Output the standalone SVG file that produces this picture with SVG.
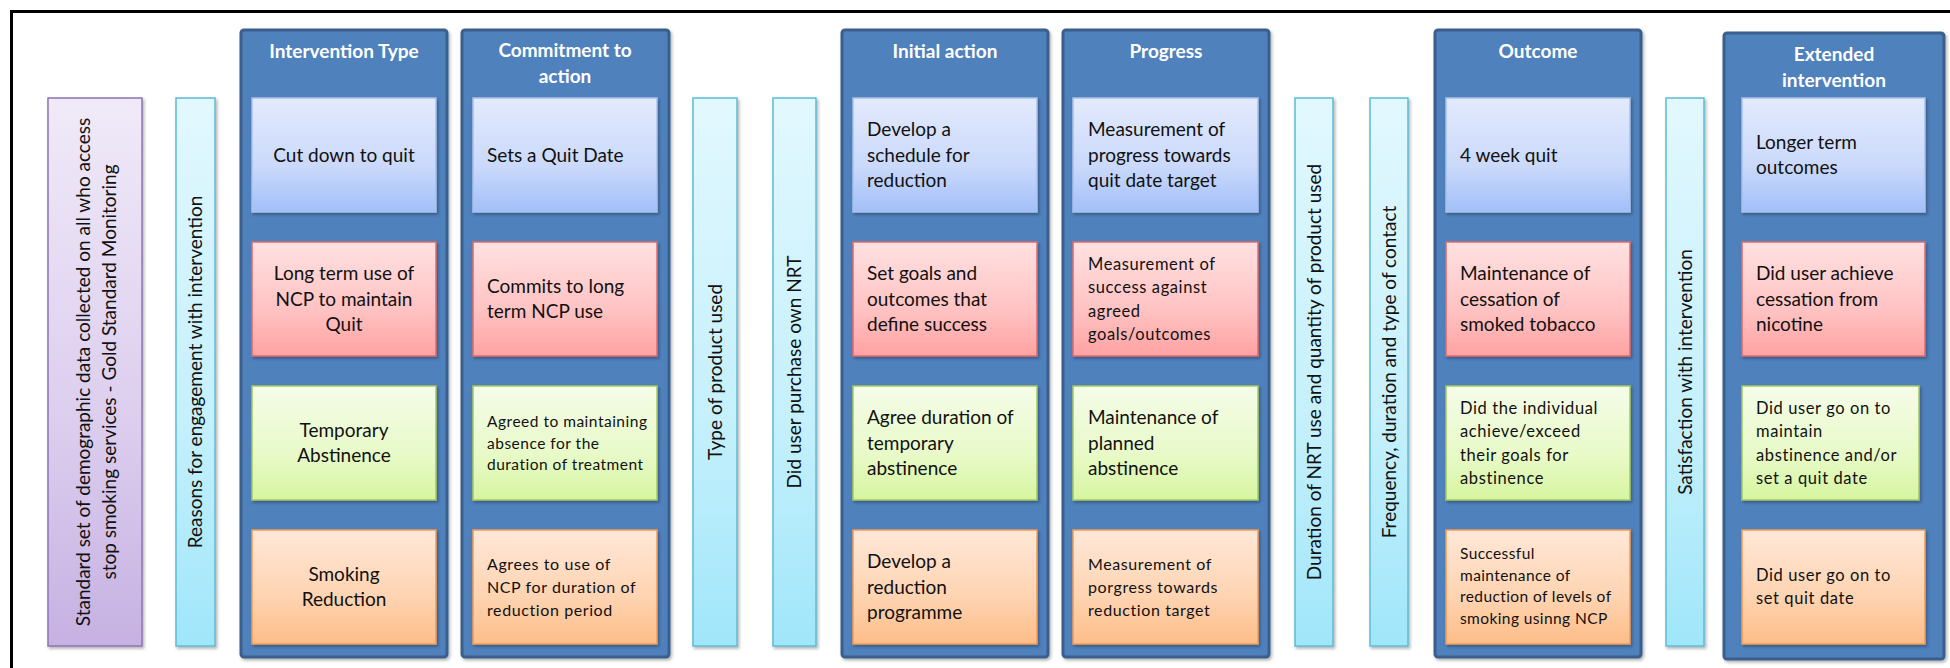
<svg xmlns="http://www.w3.org/2000/svg" width="1950" height="668" viewBox="0 0 1950 668">
<style>
.col{fill:#4F81BD;stroke:#3A5F8C;stroke-width:3}
.hd{font-family:Lato,"Open Sans","Liberation Sans",sans-serif;font-weight:bold;font-size:19px;fill:#FFFFFF;text-anchor:middle}
.t{font-family:Lato,"Open Sans","Liberation Sans",sans-serif;font-size:19px;fill:#111111}
.s{font-family:Lato,"Open Sans","Liberation Sans",sans-serif;font-size:15.5px;letter-spacing:0.5px;fill:#111111}
.s2{font-size:16px;letter-spacing:0.6px}
.s3{font-size:16.5px;letter-spacing:0.6px}
.s4{font-size:15.5px;letter-spacing:0.4px}
.c{text-anchor:middle}
.v{font-family:Lato,"Open Sans","Liberation Sans",sans-serif;font-size:19px;fill:#111111;text-anchor:middle}
.bb{fill:url(#gB);stroke:#A9C1E8;stroke-width:1.5}
.br{fill:url(#gR);stroke:#E06A6A;stroke-width:1.5}
.bg{fill:url(#gG);stroke:#A5C85E;stroke-width:1.5}
.bo{fill:url(#gO);stroke:#F59A52;stroke-width:1.5}
.bp{fill:url(#gP);stroke:#8D74B3;stroke-width:1.5}
.bc{fill:url(#gC);stroke:#5CBCD6;stroke-width:1.5}
</style>
<defs>
<linearGradient id="gB" x1="0" y1="0" x2="0" y2="1"><stop offset="0" stop-color="#E3EAFC"/><stop offset="0.6" stop-color="#CAD9FB"/><stop offset="1" stop-color="#A2BFF9"/></linearGradient>
<linearGradient id="gR" x1="0" y1="0" x2="0" y2="1"><stop offset="0" stop-color="#FFE1E1"/><stop offset="0.6" stop-color="#FFC2C2"/><stop offset="1" stop-color="#FFA2A2"/></linearGradient>
<linearGradient id="gG" x1="0" y1="0" x2="0" y2="1"><stop offset="0" stop-color="#F5FCE9"/><stop offset="0.6" stop-color="#E8FAC8"/><stop offset="1" stop-color="#D6F5A0"/></linearGradient>
<linearGradient id="gO" x1="0" y1="0" x2="0" y2="1"><stop offset="0" stop-color="#FFE8D8"/><stop offset="0.6" stop-color="#FED3B0"/><stop offset="1" stop-color="#FDBD88"/></linearGradient>
<linearGradient id="gP" x1="0" y1="0" x2="0" y2="1"><stop offset="0" stop-color="#F0EAF8"/><stop offset="0.6" stop-color="#DCCDEE"/><stop offset="1" stop-color="#C6B1E2"/></linearGradient>
<linearGradient id="gC" x1="0" y1="0" x2="0" y2="1"><stop offset="0" stop-color="#E2F8FE"/><stop offset="0.6" stop-color="#C4F0FC"/><stop offset="1" stop-color="#A0E6FA"/></linearGradient>
<filter id="sh" x="-10%" y="-5%" width="125%" height="115%"><feDropShadow dx="1.5" dy="2" stdDeviation="1.5" flood-color="#000" flood-opacity="0.3"/></filter>
</defs>

<rect x="0" y="0" width="1950" height="668" fill="#FFFFFF"/>
<rect id="frame" x="11.5" y="11.5" width="1990" height="700" fill="none" stroke="#000" stroke-width="3"/>

<g id="connectors"></g>

<g id="demographics">
<rect class="bp" x="48" y="98" width="94" height="548" filter="url(#sh)"/>
<text class="v" transform="translate(89.5,372) rotate(-90)">Standard set of demographic data collected on all who access</text>
<text class="v" transform="translate(115.5,372) rotate(-90)">stop smoking services - Gold Standard Monitoring</text>
</g>

<g id="reasons">
<rect class="bc" x="176" y="98" width="39" height="548" filter="url(#sh)"/>
<text class="v" transform="translate(202,372) rotate(-90)">Reasons for engagement with intervention</text>
</g>

<g id="intervention-type">
<rect class="col" x="241" y="30" width="206" height="627" rx="3" filter="url(#sh)"/>
<text class="hd" x="344" y="58">Intervention Type</text>
<rect class="bb" x="252" y="98" width="184" height="114" filter="url(#sh)"/>
<text class="t c" x="344" y="161.5">Cut down to quit</text>
<rect class="br" x="252" y="242" width="184" height="114" filter="url(#sh)"/>
<text class="t c"><tspan x="344" y="280">Long term use of</tspan><tspan x="344" y="305.5">NCP to maintain</tspan><tspan x="344" y="331">Quit</tspan></text>
<rect class="bg" x="252" y="386" width="184" height="114" filter="url(#sh)"/>
<text class="t c"><tspan x="344" y="436.75">Temporary</tspan><tspan x="344" y="462.25">Abstinence</tspan></text>
<rect class="bo" x="252" y="530" width="184" height="114" filter="url(#sh)"/>
<text class="t c"><tspan x="344" y="580.75">Smoking</tspan><tspan x="344" y="606.25">Reduction</tspan></text>
</g>

<g id="commitment">
<rect class="col" x="462" y="30" width="207" height="627" rx="3" filter="url(#sh)"/>
<text class="hd"><tspan x="565" y="57">Commitment to</tspan><tspan x="565" y="83">action</tspan></text>
<rect class="bb" x="473" y="98" width="184" height="114" filter="url(#sh)"/>
<text class="t" x="487" y="161.5">Sets a Quit Date</text>
<rect class="br" x="473" y="242" width="184" height="114" filter="url(#sh)"/>
<text class="t"><tspan x="487" y="292.75">Commits to long</tspan><tspan x="487" y="318.25">term NCP use</tspan></text>
<rect class="bg" x="473" y="386" width="184" height="114" filter="url(#sh)"/>
<text class="s"><tspan x="487" y="427">Agreed to maintaining</tspan><tspan x="487" y="448.5">absence for the</tspan><tspan x="487" y="470">duration of treatment</tspan></text>
<rect class="bo" x="473" y="530" width="184" height="114" filter="url(#sh)"/>
<text class="s s2"><tspan x="487" y="569.5">Agrees to use of</tspan><tspan x="487" y="592.5">NCP for duration of</tspan><tspan x="487" y="615.5">reduction period</tspan></text>
</g>

<g id="product-type">
<rect class="bc" x="693" y="98" width="44" height="548" filter="url(#sh)"/>
<text class="v" transform="translate(721.5,372) rotate(-90)">Type of product used</text>
</g>

<g id="purchase">
<rect class="bc" x="773" y="98" width="43" height="548" filter="url(#sh)"/>
<text class="v" transform="translate(801,372) rotate(-90)">Did user purchase own NRT</text>
</g>

<g id="initial-action">
<rect class="col" x="842" y="30" width="206" height="627" rx="3" filter="url(#sh)"/>
<text class="hd" x="945" y="58">Initial action</text>
<rect class="bb" x="853" y="98" width="184" height="114" filter="url(#sh)"/>
<text class="t"><tspan x="867" y="136">Develop a</tspan><tspan x="867" y="161.5">schedule for</tspan><tspan x="867" y="187">reduction</tspan></text>
<rect class="br" x="853" y="242" width="184" height="114" filter="url(#sh)"/>
<text class="t"><tspan x="867" y="280">Set goals and</tspan><tspan x="867" y="305.5">outcomes that</tspan><tspan x="867" y="331">define success</tspan></text>
<rect class="bg" x="853" y="386" width="184" height="114" filter="url(#sh)"/>
<text class="t"><tspan x="867" y="424">Agree duration of</tspan><tspan x="867" y="449.5">temporary</tspan><tspan x="867" y="475">abstinence</tspan></text>
<rect class="bo" x="853" y="530" width="184" height="114" filter="url(#sh)"/>
<text class="t"><tspan x="867" y="568">Develop a</tspan><tspan x="867" y="593.5">reduction</tspan><tspan x="867" y="619">programme</tspan></text>
</g>

<g id="progress">
<rect class="col" x="1063" y="30" width="206" height="627" rx="3" filter="url(#sh)"/>
<text class="hd" x="1166" y="58">Progress</text>
<rect class="bb" x="1073" y="98" width="185" height="114" filter="url(#sh)"/>
<text class="t"><tspan x="1088" y="136">Measurement of</tspan><tspan x="1088" y="161.5">progress towards</tspan><tspan x="1088" y="187">quit date target</tspan></text>
<rect class="br" x="1073" y="242" width="185" height="114" filter="url(#sh)"/>
<text class="s s3"><tspan x="1088" y="269.5">Measurement  of</tspan><tspan x="1088" y="293">success against</tspan><tspan x="1088" y="316.5">agreed</tspan><tspan x="1088" y="340">goals/outcomes</tspan></text>
<rect class="bg" x="1073" y="386" width="185" height="114" filter="url(#sh)"/>
<text class="t"><tspan x="1088" y="424">Maintenance of</tspan><tspan x="1088" y="449.5">planned</tspan><tspan x="1088" y="475">abstinence</tspan></text>
<rect class="bo" x="1073" y="530" width="185" height="114" filter="url(#sh)"/>
<text class="s s2"><tspan x="1088" y="569.5">Measurement  of</tspan><tspan x="1088" y="592.5">porgress towards</tspan><tspan x="1088" y="615.5">reduction target</tspan></text>
</g>

<g id="nrt-duration">
<rect class="bc" x="1295" y="98" width="38" height="548" filter="url(#sh)"/>
<text class="v" transform="translate(1320.5,372) rotate(-90)">Duration of NRT use and quantity of product used</text>
</g>

<g id="contact">
<rect class="bc" x="1370" y="98" width="38" height="548" filter="url(#sh)"/>
<text class="v" transform="translate(1395.5,372) rotate(-90)">Frequency, duration and type of contact</text>
</g>

<g id="outcome">
<rect class="col" x="1435" y="30" width="206" height="627" rx="3" filter="url(#sh)"/>
<text class="hd" x="1538" y="58">Outcome</text>
<rect class="bb" x="1446" y="98" width="184" height="114" filter="url(#sh)"/>
<text class="t" x="1460" y="161.5">4 week quit</text>
<rect class="br" x="1446" y="242" width="184" height="114" filter="url(#sh)"/>
<text class="t"><tspan x="1460" y="280">Maintenance of</tspan><tspan x="1460" y="305.5">cessation of</tspan><tspan x="1460" y="331">smoked tobacco</tspan></text>
<rect class="bg" x="1446" y="386" width="184" height="114" filter="url(#sh)"/>
<text class="s s3"><tspan x="1460" y="413.5">Did the individual</tspan><tspan x="1460" y="437">achieve/exceed</tspan><tspan x="1460" y="460.5">their goals for</tspan><tspan x="1460" y="484">abstinence</tspan></text>
<rect class="bo" x="1446" y="530" width="184" height="114" filter="url(#sh)"/>
<text class="s s4"><tspan x="1460" y="559">Successful</tspan><tspan x="1460" y="580.5">maintenance of</tspan><tspan x="1460" y="602">reduction of levels of</tspan><tspan x="1460" y="623.5">smoking usinng NCP</tspan></text>
</g>

<g id="satisfaction">
<rect class="bc" x="1666" y="98" width="38" height="548" filter="url(#sh)"/>
<text class="v" transform="translate(1691.5,372) rotate(-90)">Satisfaction with intervention</text>
</g>

<g id="extended">
<rect class="col" x="1724" y="33" width="220" height="626" rx="3" filter="url(#sh)"/>
<text class="hd"><tspan x="1834" y="61">Extended</tspan><tspan x="1834" y="87">intervention</tspan></text>
<rect class="bb" x="1742" y="98" width="183" height="114" filter="url(#sh)"/>
<text class="t"><tspan x="1756" y="148.75">Longer term</tspan><tspan x="1756" y="174.25">outcomes</tspan></text>
<rect class="br" x="1742" y="242" width="183" height="114" filter="url(#sh)"/>
<text class="t"><tspan x="1756" y="280">Did user achieve</tspan><tspan x="1756" y="305.5">cessation from</tspan><tspan x="1756" y="331">nicotine</tspan></text>
<rect class="bg" x="1742" y="386" width="177" height="114" filter="url(#sh)"/>
<text class="s s3"><tspan x="1756" y="413.5">Did user go on to</tspan><tspan x="1756" y="437">maintain</tspan><tspan x="1756" y="460.5">abstinence and/or</tspan><tspan x="1756" y="484">set a quit date</tspan></text>
<rect class="bo" x="1742" y="530" width="183" height="114" filter="url(#sh)"/>
<text class="s s3"><tspan x="1756" y="581">Did user go on to</tspan><tspan x="1756" y="604">set quit date</tspan></text>
</g>
</svg>
